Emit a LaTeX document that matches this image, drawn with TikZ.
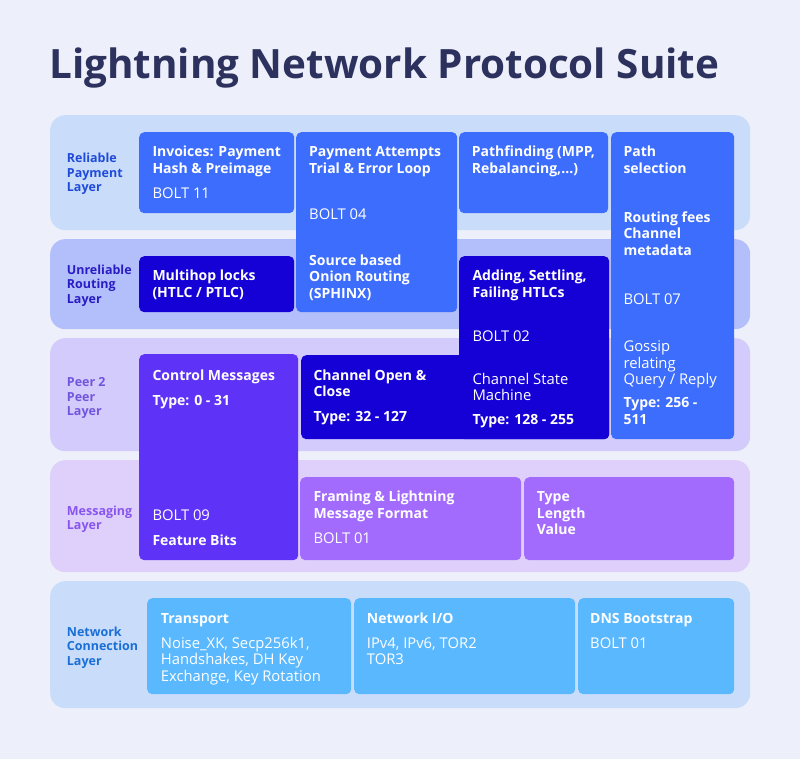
\documentclass[tikz,border=0pt]{standalone}
\usepackage{fontspec}
\setmainfont{Open Sans}
\usetikzlibrary{positioning}

\definecolor{bgcol}{HTML}{EDF0FA}
\definecolor{titlecol}{HTML}{2C315E}
\definecolor{relbg}{HTML}{C9DCFA}
\definecolor{unrbg}{HTML}{B3BFFA}
\definecolor{ptpbg}{HTML}{D3CBFB}
\definecolor{msgbg}{HTML}{DFCFFB}
\definecolor{netbg}{HTML}{C9DCFA}
\definecolor{bluebox}{HTML}{3C6DFD}
\definecolor{darkbox}{HTML}{1500D6}
\definecolor{violetbox}{HTML}{5F33F7}
\definecolor{lilacbox}{HTML}{A26BFD}
\definecolor{skybox}{HTML}{5AB8FF}
\definecolor{relfg}{HTML}{1F4BD8}
\definecolor{unrfg}{HTML}{2A1CC4}
\definecolor{ptpfg}{HTML}{7255DE}
\definecolor{msgfg}{HTML}{8855EE}
\definecolor{netfg}{HTML}{1A6FD6}

\begin{document}
\begin{tikzpicture}[x=1pt,y=-1pt]
	\tikzset{
	  layer/.style = {rectangle, rounded corners=15pt, anchor=north west,
	                  inner sep=0pt, minimum width=700},
	  blk/.style   = {rectangle, rounded corners=5pt, anchor=north west,
	                  inner sep=0pt},
	  head/.style  = {anchor=base west, align=left, inner sep=0pt, text=white,
	                  font=\bfseries\fontsize{14}{16.6}\selectfont},
	  note/.style  = {head, font=\fontsize{14.8}{16.6}\selectfont},
	  lbl/.style   = {anchor=base west, align=left, inner sep=0pt,
	                  font=\bfseries\fontsize{12.5}{14.5}\selectfont},
	  % the base of a node of several lines is its last line
	  two/.style   = {yshift=-16.6pt},
	  three/.style = {yshift=-33.2pt},
	  ltwo/.style  = {yshift=-14.5pt},
	  lthree/.style = {yshift=-29pt}
	}
	\fill[bgcol] (0,0) rectangle (800,759);
	\useasboundingbox (0,0) rectangle (800,759);

	\node[anchor=base west, inner sep=0pt, text=titlecol,
	      font=\bfseries\fontsize{40.4}{48}\selectfont] (title) at (49,79)
	      {Lightning Network Protocol Suite};

	% the five layers
	\node[layer, fill=relbg, minimum height=115] (rel) at (50,115) {};
	\node[layer, fill=unrbg, minimum height=90]  (unr) at (50,239) {};
	\node[layer, fill=ptpbg, minimum height=113] (ptp) at (50,338) {};
	\node[layer, fill=msgbg, minimum height=112] (msg) at (50,460) {};
	\node[layer, fill=netbg, minimum height=127] (net) at (50,581) {};

	\node[lbl, lthree, text=relfg] (rellbl) at (66.7,162.7) {Reliable\\Payment\\Layer};
	\node[lbl, lthree, text=unrfg] (unrlbl) at (66.7,274.3) {Unreliable\\Routing\\Layer};
	\node[lbl, lthree, text=ptpfg] (ptplbl) at (66.7,386.7) {Peer 2\\Peer\\Layer};
	\node[lbl, ltwo, text=msgfg] (msglbl) at (66.7,515) {Messaging\\Layer};
	\node[lbl, lthree, text=netfg] (netlbl) at (66.7,636) {Network\\Connection\\Layer};

	% boxes
	\node[blk, fill=bluebox, minimum width=155, minimum height=81]  (inv) at (139,132) {};
	\node[blk, fill=bluebox, minimum width=161, minimum height=180] (pay) at (296,132) {};
	\node[blk, fill=bluebox, minimum width=149, minimum height=81]  (pfd) at (459,132) {};
	\node[blk, fill=bluebox, minimum width=123, minimum height=307] (sel) at (611,132) {};
	\node[blk, fill=darkbox, minimum width=155, minimum height=56]  (mhl) at (139,256) {};
	\node[blk, fill=darkbox, minimum width=308, minimum height=84]  (chan) at (301,355) {};
	\node[blk, fill=darkbox, minimum width=150, minimum height=183] (add) at (459,256) {};
	\node[blk, fill=violetbox, minimum width=159, minimum height=206] (ctl) at (139,354) {};
	\node[blk, fill=lilacbox, minimum width=221, minimum height=83] (frm) at (300,477) {};
	\node[blk, fill=lilacbox, minimum width=210, minimum height=83] (tlv) at (524,477) {};
	\node[blk, fill=skybox, minimum width=204, minimum height=96]   (tra) at (147,598) {};
	\node[blk, fill=skybox, minimum width=221, minimum height=96]   (nio) at (354,598) {};
	\node[blk, fill=skybox, minimum width=156, minimum height=96]   (dns) at (578,598) {};

	% reliable payment layer
	\node[head, two] (invh) at (152.3,156.7) {Invoices: Payment\\Hash \& Preimage};
	\node[note] (invb) at (152.3,199) {BOLT 11};
	\node[head, two] (payh) at (309,156.7) {Payment Attempts\\Trial \& Error Loop};
	\node[note] (payb) at (309,219.3) {BOLT 04};
	\node[head, three] (pays) at (309,265) {Source based\\Onion Routing\\(SPHINX)};
	\node[head, two] (pfdh) at (471.7,156.7) {Pathfinding (MPP,\\Rebalancing,...)};
	\node[head, two] (selh) at (623.3,156.7) {Path\\selection};
	\node[head, three] (self) at (623.3,222.3) {Routing fees\\Channel\\metadata};
	\node[note] (selb) at (623.3,304) {BOLT 07};
	\node[note, three] (selg) at (623.3,351.7) {Gossip\\relating\\Query / Reply};
	\node[head, two] (selt) at (623.3,407.7) {Type: 256 -\\511};

	% unreliable routing layer
	\node[head, two] (mhlh) at (152.3,280.7) {Multihop locks\\(HTLC / PTLC)};
	\node[head, two] (addh) at (472.3,280.7) {Adding, Settling,\\Failing HTLCs};
	\node[note] (addb) at (472.3,341.7) {BOLT 02};
	\node[note, two] (adds) at (472.3,384) {Channel State\\Machine};
	\node[head] (addt) at (472.3,424) {Type: 128 - 255};

	% peer 2 peer layer
	\node[head] (ctlh) at (152.3,380) {Control Messages};
	\node[head] (ctlt) at (152.3,405) {Type: 0 - 31};
	\node[note] (ctlb) at (152.3,520) {BOLT 09};
	\node[head] (ctlf) at (152.3,545) {Feature Bits};
	\node[head, two] (chanh) at (313.3,380) {Channel Open \&\\Close};
	\node[head] (chant) at (313.3,421.7) {Type: 32 - 127};

	% messaging layer
	\node[head, two] (frmh) at (313.3,501.7) {Framing \& Lightning\\Message Format};
	\node[note] (frmb) at (313.3,543.3) {BOLT 01};
	\node[head, three] (tlvh) at (536.7,501.7) {Type\\Length\\Value};

	% network connection layer
	\node[head] (trah) at (160.7,623.3) {Transport};
	\node[note, three] (trat) at (160.7,648.3) {Noise\_XK, Secp256k1,\\Handshakes, DH Key\\Exchange, Key Rotation};
	\node[head] (nioh) at (366.7,623.3) {Network I/O};
	\node[note, two] (niot) at (366.7,648.3) {IPv4, IPv6, TOR2\\TOR3};
	\node[head] (dnsh) at (590,623.3) {DNS Bootstrap};
	\node[note] (dnsb) at (590,648.3) {BOLT 01};
\end{tikzpicture}
\end{document}
